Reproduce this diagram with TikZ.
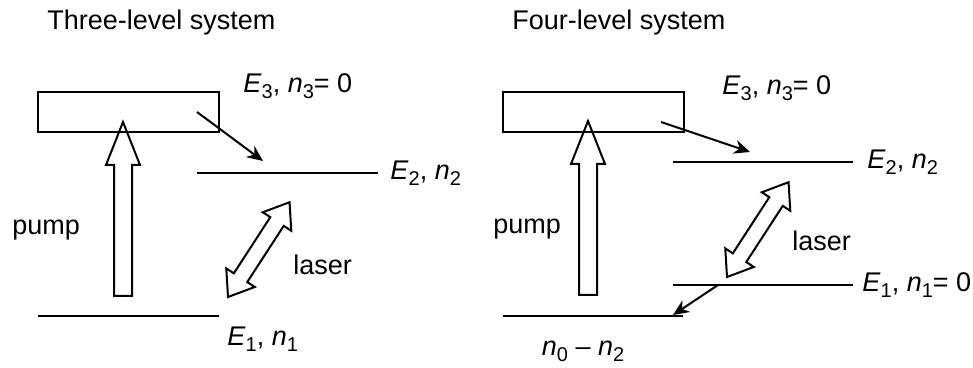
\documentclass[tikz,border=0pt]{standalone}
\usepackage{fontspec}
\setmainfont{Liberation Sans}
\usetikzlibrary{positioning,arrows.meta}
\newcommand{\sym}[2]{\textit{#1}\raisebox{-3pt}{\fontsize{10}{10}\selectfont #2}}

\begin{document}
\begin{tikzpicture}[
  x=0.5pt, y=-0.5pt,
  txt/.style={font=\fontsize{13.5}{16}\selectfont, inner sep=0pt},
  level/.style={line width=1pt},
  upper/.style={draw, line width=1pt, inner sep=0pt,
                minimum width=90.5pt, minimum height=20pt},
  decay/.style={-{Stealth[length=8pt,width=7pt]}, line width=1pt},
  hollow/.style={draw, line width=1pt, line join=miter},
  pumparrow/.pic={
    \draw[hollow] (-9,0) -- (-9,-131) -- (-17,-131) -- (0,-174)
      -- (17,-131) -- (9,-131) -- (9,0) -- cycle;},
  laserarrow/.pic={
    \draw[hollow] (0,0) -- (23,17) -- (23,8) -- (90,8) -- (90,17)
      -- (113,0) -- (90,-17) -- (90,-8) -- (23,-8) -- (23,-17) -- cycle;}
]
  \useasboundingbox (0,0) rectangle (973,368);

  % three-level system
  \node[txt, anchor=base west] (t3) at (47,30) {Three-level system};
  \node[upper] (e3l) at (128.5,112) {};
  \coordinate (e2la) at (197,173);
  \coordinate (e2lb) at (378,173);
  \coordinate (e1la) at (38,316);
  \coordinate (e1lb) at (219,316);
  \draw[level] (e2la) -- (e2lb);
  \draw[level] (e1la) -- (e1lb);
  \pic at (123,296) {pumparrow};
  \pic[rotate=57] at (228,297) {laserarrow};
  \coordinate (d3l) at (197,112);
  \coordinate (d2l) at (263,161);
  \draw[decay] (d3l) -- (d2l);
  \node[txt, anchor=base west] (e3ltxt) at (243,93) {\sym{E}{3}, \sym{n}{3}= 0};
  \node[txt, right=6pt of e2lb] (e2ltxt) {\sym{E}{2}, \sym{n}{2}};
  \node[txt, below right=5.5pt and 4pt of e1lb] (e1ltxt) {\sym{E}{1}, \sym{n}{1}};
  \node[txt, anchor=base west] (pumpl) at (12,235) {pump};
  \node[txt, anchor=base west] (laserl) at (293,275) {laser};

  % four-level system
  \node[txt, anchor=base west] (t4) at (512,30) {Four-level system};
  \node[upper] (e3r) at (593,112) {};
  \coordinate (e2ra) at (673,162);
  \coordinate (e2rb) at (853,162);
  \coordinate (e1ra) at (673,285);
  \coordinate (e1rb) at (853,285);
  \coordinate (e0ra) at (503,316);
  \coordinate (e0rb) at (683,316);
  \draw[level] (e2ra) -- (e2rb);
  \draw[level] (e1ra) -- (e1rb);
  \draw[level] (e0ra) -- (e0rb);
  \pic at (588,295) {pumparrow};
  \pic[rotate=57] at (727,277) {laserarrow};
  \coordinate (d3r) at (661,122);
  \coordinate (d2r) at (750,152);
  \coordinate (d1r) at (718,285);
  \coordinate (d0r) at (673,315);
  \draw[decay] (d3r) -- (d2r);
  \draw[decay] (d1r) -- (d0r);
  \node[txt, anchor=base west] (e3rtxt) at (722,95) {\sym{E}{3}, \sym{n}{3}= 0};
  \node[txt, right=7pt of e2rb] (e2rtxt) {\sym{E}{2}, \sym{n}{2}};
  \node[txt, right=4.5pt of e1rb] (e1rtxt) {\sym{E}{1}, \sym{n}{1}= 0};
  \node[txt, anchor=base] (e0rtxt) at (583,355) {\sym{n}{0} – \sym{n}{2}};
  \node[txt, anchor=base west] (pumpr) at (493,234) {pump};
  \node[txt, anchor=base west] (laserr) at (792,251) {laser};
\end{tikzpicture}
\end{document}
